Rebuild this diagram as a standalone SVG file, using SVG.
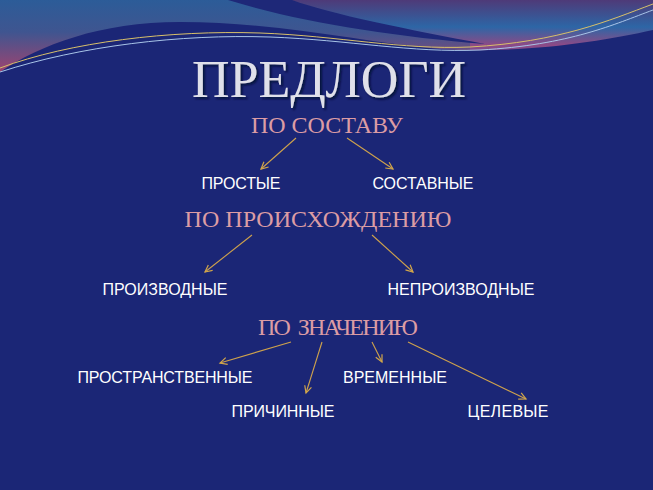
<svg xmlns="http://www.w3.org/2000/svg" width="653" height="490" viewBox="0 0 653 490">
<defs>
<linearGradient id="gR" x1="0" y1="0" x2="0" y2="1">
<stop offset="0" stop-color="#4e3a78"/>
<stop offset="0.45" stop-color="#2d66a6"/>
<stop offset="0.75" stop-color="#8c4a86"/>
<stop offset="1" stop-color="#6a4a9a"/>
</linearGradient>
<linearGradient id="gL" x1="0" y1="0" x2="0" y2="80" gradientUnits="userSpaceOnUse">
<stop offset="0" stop-color="#2c5c98"/>
<stop offset="0.4" stop-color="#3f5590"/>
<stop offset="1" stop-color="#b2406a"/>
</linearGradient>
<filter id="sh" x="-10%" y="-20%" width="120%" height="150%">
<feDropShadow dx="2" dy="2" stdDeviation="1" flood-color="#060a30" flood-opacity="0.85"/>
</filter>
<marker id="ah" markerWidth="10" markerHeight="10" refX="8" refY="4" orient="auto" markerUnits="userSpaceOnUse">
<path d="M1,0.5 L8,4 L1,7.5" fill="none" stroke="#d2a64a" stroke-width="1.2"/>
</marker>
<style>
.conn{stroke:#cfa24c;stroke-width:1.1;fill:none;marker-end:url(#ah)}
.cat{font-family:"Liberation Serif","DejaVu Serif",serif;font-size:24px;fill:#dc9ca4;text-anchor:middle}
.lbl{font-family:"Liberation Sans",Arial,sans-serif;font-size:16px;fill:#ffffff;text-anchor:middle}
</style>
</defs>
<rect x="0" y="0" width="653" height="490" fill="#1b2676"/>
<g id="background">
<rect x="0" y="0" width="653" height="60" fill="url(#gR)"/>
<path d="M0,0 H232 C300,18 380,32 470,42 L470,90 L0,90 Z" fill="url(#gL)"/>
<path d="M228,0 C300,22 390,36 485,44 C410,30 330,14 292,0 Z" fill="#1e2878"/>
<path d="M0,72 C40,45 100,22 180,22 C280,22 360,42 440,49 C520,54 600,42 653,30 V490 H0 Z" fill="#1b2676"/>
<path d="M0,68 C70,42 170,30 260,33 C340,36 400,50 470,47 C560,42 610,20 653,4" fill="none" stroke="#d8c06a" stroke-width="1"/>
<path d="M0,72 C80,46 180,34 270,37 C350,40 410,53 480,50 C570,45 615,24 653,10" fill="none" stroke="#a8c4e8" stroke-width="1"/>
</g>
<g id="title">
<text x="329" y="97" font-family="'Liberation Serif','DejaVu Serif',serif" font-size="52" fill="#dfe0ea" text-anchor="middle" textLength="274" filter="url(#sh)">ПРЕДЛОГИ</text>
</g>
<g id="connectors">
<line class="conn" x1="296" y1="138" x2="261" y2="169"/>
<line class="conn" x1="347" y1="138" x2="393" y2="169"/>
<line class="conn" x1="252" y1="235" x2="205" y2="272"/>
<line class="conn" x1="372" y1="235" x2="413" y2="272"/>
<line class="conn" x1="291" y1="342" x2="220" y2="363"/>
<line class="conn" x1="322" y1="342" x2="306" y2="393"/>
<line class="conn" x1="372" y1="342" x2="382" y2="362"/>
<line class="conn" x1="408" y1="342" x2="526" y2="399"/>
</g>
<g id="n-sostav"><text class="cat" x="327" y="133" textLength="152">ПО СОСТАВУ</text></g>
<g id="n-prostye"><text class="lbl" x="241" y="189" textLength="79">ПРОСТЫЕ</text></g>
<g id="n-sostavnye"><text class="lbl" x="423" y="189" textLength="101">СОСТАВНЫЕ</text></g>
<g id="n-proiskh"><text class="cat" x="318" y="227" textLength="267">ПО ПРОИСХОЖДЕНИЮ</text></g>
<g id="n-proizv"><text class="lbl" x="165" y="295" textLength="125">ПРОИЗВОДНЫЕ</text></g>
<g id="n-neproizv"><text class="lbl" x="461" y="295" textLength="147">НЕПРОИЗВОДНЫЕ</text></g>
<g id="n-znach"><text class="cat" x="338" y="335" textLength="160" xml:space="preserve">ПО  ЗНАЧЕНИЮ</text></g>
<g id="n-prostr"><text class="lbl" x="165" y="383" textLength="175">ПРОСТРАНСТВЕННЫЕ</text></g>
<g id="n-vremen"><text class="lbl" x="395" y="383" textLength="104">ВРЕМЕННЫЕ</text></g>
<g id="n-prichin"><text class="lbl" x="283" y="417" textLength="103">ПРИЧИННЫЕ</text></g>
<g id="n-tselev"><text class="lbl" x="508" y="417" textLength="81">ЦЕЛЕВЫЕ</text></g>
</svg>
